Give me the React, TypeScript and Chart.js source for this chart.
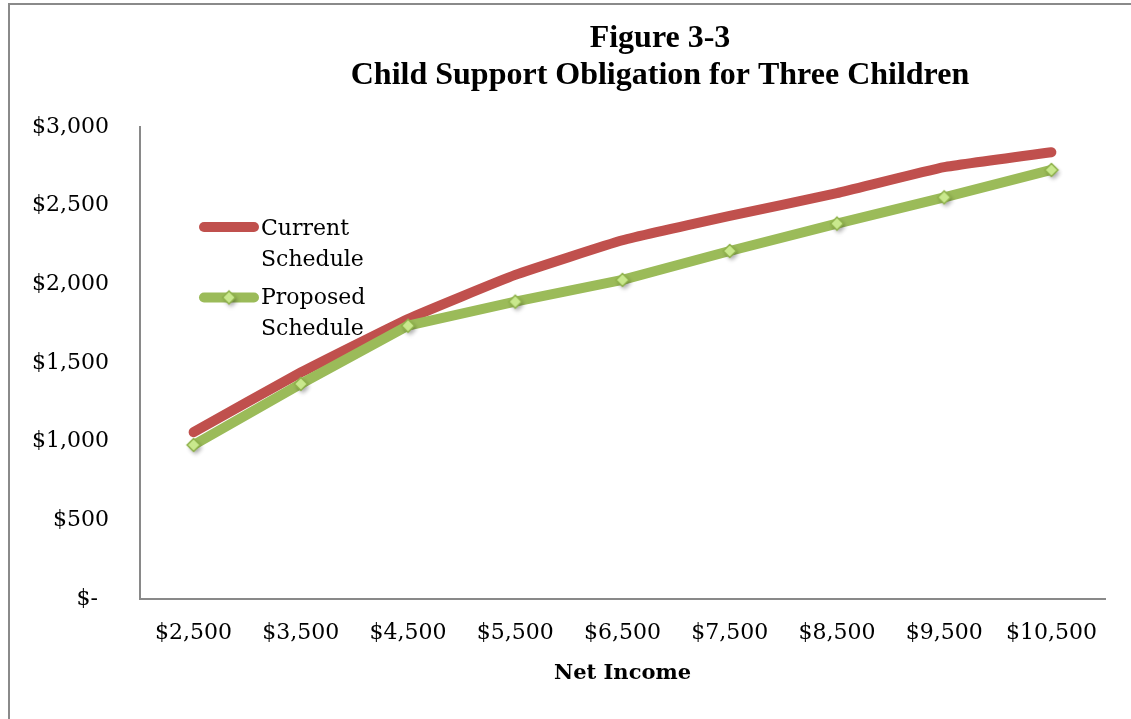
import { useEffect, useRef } from 'react';
import { Chart, registerables } from 'chart.js';

Chart.register(...registerables);

const categories = ['$2,500', '$3,500', '$4,500', '$5,500', '$6,500', '$7,500', '$8,500', '$9,500', '$10,500'];
const currentSchedule = [1060, 1440, 1780, 2060, 2280, 2435, 2580, 2745, 2840];
const proposedSchedule = [979, 1367, 1737, 1890, 2028, 2212, 2386, 2553, 2727];
const yTickValues = [0, 500, 1000, 1500, 2000, 2500, 3000];
const yTickLabels = ['$-\u2002', '$500', '$1,000', '$1,500', '$2,000', '$2,500', '$3,000'];
const seriesNames = [['Current', 'Schedule'], ['Proposed', 'Schedule']];
const titleLines = ['Figure 3-3', 'Child Support Obligation for Three Children'];
const xAxisTitle = 'Net Income';

const RED = '#C0504D';
const GREEN = '#9BBB59';
const TEXT_FONT = '"DejaVu Serif", serif';

function makeDiamond(): HTMLCanvasElement {
  const c = document.createElement('canvas');
  c.width = 26;
  c.height = 26;
  const g = c.getContext('2d')!;
  const cx = 13, cy = 13, r = 6.5;
  const path = () => {
    g.beginPath();
    g.moveTo(cx, cy - r);
    g.lineTo(cx + r, cy);
    g.lineTo(cx, cy + r);
    g.lineTo(cx - r, cy);
    g.closePath();
  };
  g.save();
  g.shadowColor = 'rgba(0,0,0,0.35)';
  g.shadowBlur = 4;
  g.shadowOffsetX = 2;
  g.shadowOffsetY = 3;
  path();
  g.fillStyle = '#C9E88D';
  g.fill();
  g.restore();
  path();
  g.fillStyle = '#C9E88D';
  g.fill();
  g.lineWidth = 1.5;
  g.strokeStyle = '#8DB04A';
  g.stroke();
  return c;
}

export default function App() {
  const ref = useRef<HTMLCanvasElement | null>(null);

  useEffect(() => {
    if (!ref.current) return;
    const diamond = makeDiamond();

    const titlePlugin = {
      id: 'customTitle',
      afterDraw(chart: any) {
        const ctx = chart.ctx;
        ctx.save();
        ctx.fillStyle = '#000';
        ctx.font = 'bold 32px "Liberation Serif", serif';
        ctx.textAlign = 'center';
        ctx.textBaseline = 'alphabetic';
        ctx.fillText(titleLines[0], 660, 47);
        ctx.fillText(titleLines[1], 660, 84);
        ctx.restore();
      },
    };

    const legendPlugin = {
      id: 'customLegend',
      afterDatasetsDraw(chart: any) {
        const ctx = chart.ctx;
        const a = chart.chartArea;
        const x0 = a.left + 64;
        const x1 = a.left + 114;
        const items = [
          { color: RED, y: a.top + 100, marker: false, lines: seriesNames[0], base: a.top + 108 },
          { color: GREEN, y: a.top + 170.5, marker: true, lines: seriesNames[1], base: a.top + 177 },
        ];
        ctx.save();
        items.forEach((it) => {
          ctx.beginPath();
          ctx.lineWidth = 10;
          ctx.lineCap = 'round';
          ctx.strokeStyle = it.color;
          ctx.moveTo(x0, it.y);
          ctx.lineTo(x1, it.y);
          ctx.stroke();
          if (it.marker) {
            ctx.drawImage(diamond, (x0 + x1) / 2 - 13, it.y - 13);
          }
          ctx.fillStyle = '#000';
          ctx.font = '22px ' + TEXT_FONT;
          ctx.textAlign = 'left';
          ctx.textBaseline = 'alphabetic';
          ctx.fillText(it.lines[0], a.left + 121, it.base);
          ctx.fillText(it.lines[1], a.left + 121, it.base + 31);
        });
        ctx.restore();
      },
    };

    const chart = new Chart(ref.current, {
      type: 'line',
      data: {
        labels: categories,
        datasets: [
          {
            label: seriesNames[0].join(' '),
            data: currentSchedule,
            borderColor: RED,
            backgroundColor: RED,
            borderWidth: 10,
            borderCapStyle: 'round',
            borderJoinStyle: 'round',
            tension: 0.12,
            pointRadius: 0,
            order: 1,
          },
          {
            label: seriesNames[1].join(' '),
            data: proposedSchedule,
            borderColor: GREEN,
            backgroundColor: GREEN,
            borderWidth: 10,
            borderCapStyle: 'round',
            borderJoinStyle: 'round',
            tension: 0,
            pointRadius: 6,
            pointStyle: diamond as any,
            order: 0,
          },
        ],
      },
      options: {
        responsive: false,
        animation: false,
        events: [],
        layout: { padding: { top: 127, right: 26, bottom: 0, left: 0 } },
        plugins: {
          legend: { display: false },
          title: { display: false },
          tooltip: { enabled: false },
        },
        scales: {
          x: {
            type: 'category',
            offset: true,
            grid: { display: false, drawTicks: false },
            border: { display: true, color: '#898989', width: 2 },
            ticks: {
              color: '#000',
              font: { family: TEXT_FONT, size: 22 },
              padding: 21,
              maxRotation: 0,
              autoSkip: false,
            },
            title: {
              display: true,
              text: xAxisTitle,
              color: '#000',
              font: { family: TEXT_FONT, size: 21, weight: 'bold' },
              padding: { top: 0, bottom: 33 },
            },
            afterFit(scale: any) {
              scale.height = 120;
            },
          },
          y: {
            min: 0,
            max: 3000,
            grid: { display: false, drawTicks: false },
            border: { display: true, color: '#898989', width: 2 },
            ticks: {
              stepSize: 500,
              color: '#000',
              font: { family: TEXT_FONT, size: 22 },
              padding: 31,
              callback: (value: any) => {
                const i = yTickValues.indexOf(Number(value));
                return i >= 0 ? yTickLabels[i] : '';
              },
            },
            afterFit(scale: any) {
              scale.width = 140;
            },
          },
        },
      },
      plugins: [titlePlugin, legendPlugin],
    } as any);

    return () => chart.destroy();
  }, []);

  return (
    <div>
      <div
        style={{
          position: 'fixed',
          left: 8,
          top: 3,
          width: 1200,
          height: 800,
          border: '2px solid #8a8a8a',
          boxSizing: 'border-box',
        }}
      />
      <canvas
        ref={ref}
        width={1131}
        height={719}
        style={{ position: 'fixed', left: 0, top: 0, width: 1131, height: 719 }}
      />
    </div>
  );
}
